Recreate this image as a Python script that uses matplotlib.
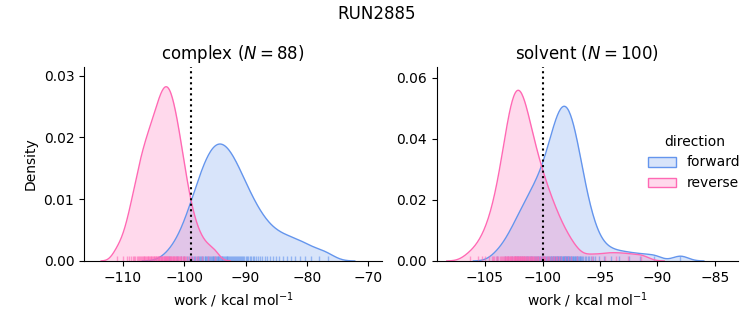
import numpy as np
import matplotlib
matplotlib.use("Agg")
import matplotlib.pyplot as plt
from matplotlib.patches import Patch
from matplotlib.ticker import MultipleLocator

complex_forward = [
    -102.43, -101.23, -100.49, -100.03, -99.58, -99.26, -98.97, -98.68, -98.42, -98.20,
    -97.99, -97.77, -97.55, -97.37, -97.20, -97.03, -96.86, -96.69, -96.53, -96.38,
    -96.23, -96.09, -95.94, -95.80, -95.66, -95.51, -95.38, -95.24, -95.11, -94.97,
    -94.84, -94.70, -94.57, -94.43, -94.30, -94.17, -94.04, -93.91, -93.77, -93.64,
    -93.51, -93.37, -93.23, -93.09, -92.96, -92.82, -92.68, -92.54, -92.39, -92.24,
    -92.09, -91.93, -91.78, -91.63, -91.47, -91.30, -91.12, -90.95, -90.77, -90.60,
    -90.41, -90.20, -89.99, -89.78, -89.57, -89.33, -89.07, -88.82, -88.56, -88.27,
    -87.96, -87.65, -87.30, -86.91, -86.53, -86.06, -85.59, -85.06, -84.52, -83.91,
    -83.28, -82.63, -81.94, -81.21, -80.40, -79.41, -78.06, -76.60,
]
complex_reverse = [
    -110.95, -109.96, -109.38, -109.03, -108.67, -108.39, -108.18, -107.97, -107.76, -107.54,
    -107.37, -107.22, -107.07, -106.93, -106.77, -106.62, -106.48, -106.34, -106.21, -106.09,
    -105.95, -105.83, -105.70, -105.57, -105.44, -105.33, -105.21, -105.10, -104.99, -104.88,
    -104.76, -104.65, -104.54, -104.43, -104.32, -104.23, -104.13, -104.03, -103.94, -103.83,
    -103.74, -103.64, -103.55, -103.45, -103.36, -103.27, -103.18, -103.09, -103.00, -102.92,
    -102.82, -102.74, -102.64, -102.56, -102.46, -102.38, -102.28, -102.19, -102.09, -102.00,
    -101.90, -101.81, -101.71, -101.62, -101.51, -101.40, -101.28, -101.17, -101.05, -100.94,
    -100.82, -100.71, -100.59, -100.44, -100.27, -100.12, -99.96, -99.79, -99.63, -99.40,
    -99.13, -98.85, -98.57, -98.14, -97.69, -97.06, -96.18, -95.06,
]
solvent_forward = [
    -103.98, -103.30, -102.99, -102.68, -102.43, -102.26, -102.10, -101.93, -101.76, -101.60,
    -101.46, -101.35, -101.24, -101.13, -101.00, -100.88, -100.78, -100.66, -100.55, -100.45,
    -100.35, -100.27, -100.19, -100.09, -100.01, -99.92, -99.84, -99.75, -99.67, -99.58,
    -99.49, -99.41, -99.35, -99.30, -99.24, -99.18, -99.12, -99.06, -99.01, -98.95,
    -98.89, -98.83, -98.78, -98.73, -98.67, -98.62, -98.56, -98.51, -98.45, -98.41,
    -98.36, -98.32, -98.26, -98.22, -98.17, -98.13, -98.08, -98.03, -97.98, -97.94,
    -97.89, -97.85, -97.79, -97.75, -97.70, -97.66, -97.61, -97.55, -97.50, -97.44,
    -97.39, -97.33, -97.27, -97.20, -97.15, -97.09, -97.03, -96.97, -96.91, -96.84,
    -96.78, -96.72, -96.66, -96.60, -96.47, -96.34, -96.20, -96.07, -95.92, -95.79,
    -95.65, -95.46, -95.06, -94.66, -94.08, -93.34, -92.51, -91.49, -90.30, -88.00,
]
solvent_reverse = [
    -106.34, -105.58, -105.23, -104.97, -104.69, -104.43, -104.30, -104.18, -104.07, -103.96,
    -103.85, -103.74, -103.63, -103.52, -103.42, -103.34, -103.29, -103.23, -103.17, -103.13,
    -103.07, -103.02, -102.97, -102.92, -102.87, -102.82, -102.77, -102.72, -102.67, -102.62,
    -102.58, -102.52, -102.48, -102.43, -102.40, -102.35, -102.31, -102.27, -102.23, -102.18,
    -102.14, -102.11, -102.06, -102.02, -101.98, -101.94, -101.89, -101.85, -101.81, -101.77,
    -101.73, -101.68, -101.64, -101.59, -101.54, -101.49, -101.43, -101.38, -101.32, -101.26,
    -101.21, -101.15, -101.09, -101.03, -100.98, -100.92, -100.86, -100.80, -100.74, -100.67,
    -100.60, -100.51, -100.43, -100.35, -100.26, -100.18, -100.08, -100.00, -99.91, -99.83,
    -99.74, -99.65, -99.55, -99.41, -99.27, -99.13, -99.00, -98.85, -98.71, -98.58,
    -98.35, -98.08, -97.80, -97.54, -96.98, -95.70, -94.55, -93.60, -92.60, -91.40,
]
free_energy = {"complex": -98.9, "solvent": -100.0}
phase_n = {"complex": 88, "solvent": 100}

colors = {"forward": "cornflowerblue", "reverse": "hotpink"}
n_total = len(complex_forward) + len(complex_reverse) + len(solvent_forward) + len(solvent_reverse)


def kde(samples, bw_adjust=0.65):
    x = np.asarray(samples)
    bw = x.std(ddof=1) * len(x) ** (-0.2) * bw_adjust
    grid = np.linspace(x.min() - 3 * bw, x.max() + 3 * bw, 300)
    z = (grid[:, None] - x[None, :]) / bw
    dens = np.exp(-0.5 * z ** 2).sum(axis=1) / (n_total * bw * np.sqrt(2 * np.pi))
    return grid, dens


fig = plt.figure(figsize=(7.53, 3.25), dpi=100)
ax1 = fig.add_axes([0.1116, 0.197, 0.3957, 0.597])
ax2 = fig.add_axes([0.580, 0.197, 0.400, 0.597])

panels = [
    (ax1, "complex", {"forward": complex_forward, "reverse": complex_reverse}),
    (ax2, "solvent", {"forward": solvent_forward, "reverse": solvent_reverse}),
]

for ax, phase, data in panels:
    for direction in ["forward", "reverse"]:
        c = colors[direction]
        g, d = kde(data[direction])
        ax.fill_between(g, d, color=c, alpha=0.25, lw=0)
        ax.plot(g, d, color=c, lw=1)
        ax.vlines(data[direction], 0, 0.025, transform=ax.get_xaxis_transform(),
                  color=c, lw=1, alpha=0.6)
    ax.axvline(free_energy[phase], color="k", ls=":", lw=1.5)
    ax.set_title(f"{phase} ($N = {phase_n[phase]}$)", fontsize=12)
    ax.set_xlabel("work / kcal mol$^{-1}$")
    ax.spines["top"].set_visible(False)
    ax.spines["right"].set_visible(False)

ax1.set_xlim(-116.3, -67.8)
ax1.set_ylim(0, 0.0314)
ax1.xaxis.set_major_locator(MultipleLocator(10))
ax1.yaxis.set_major_locator(MultipleLocator(0.01))
ax1.set_ylabel("Density")

ax2.set_xlim(-109.2, -83.0)
ax2.set_ylim(0, 0.0635)
ax2.xaxis.set_major_locator(MultipleLocator(5))
ax2.yaxis.set_major_locator(MultipleLocator(0.02))

ax1.yaxis.set_major_formatter(plt.FormatStrFormatter("%.2f"))
ax2.yaxis.set_major_formatter(plt.FormatStrFormatter("%.2f"))

handles = [Patch(facecolor=matplotlib.colors.to_rgba(colors[k], 0.25), edgecolor=colors[k], lw=1)
           for k in ["forward", "reverse"]]
fig.legend(handles, ["forward", "reverse"], title="direction", frameon=False,
           loc="center", bbox_to_anchor=(0.922, 0.5))

fig.suptitle("RUN2885", fontsize=12, y=0.985)

fig.savefig("out.png", dpi=100)
